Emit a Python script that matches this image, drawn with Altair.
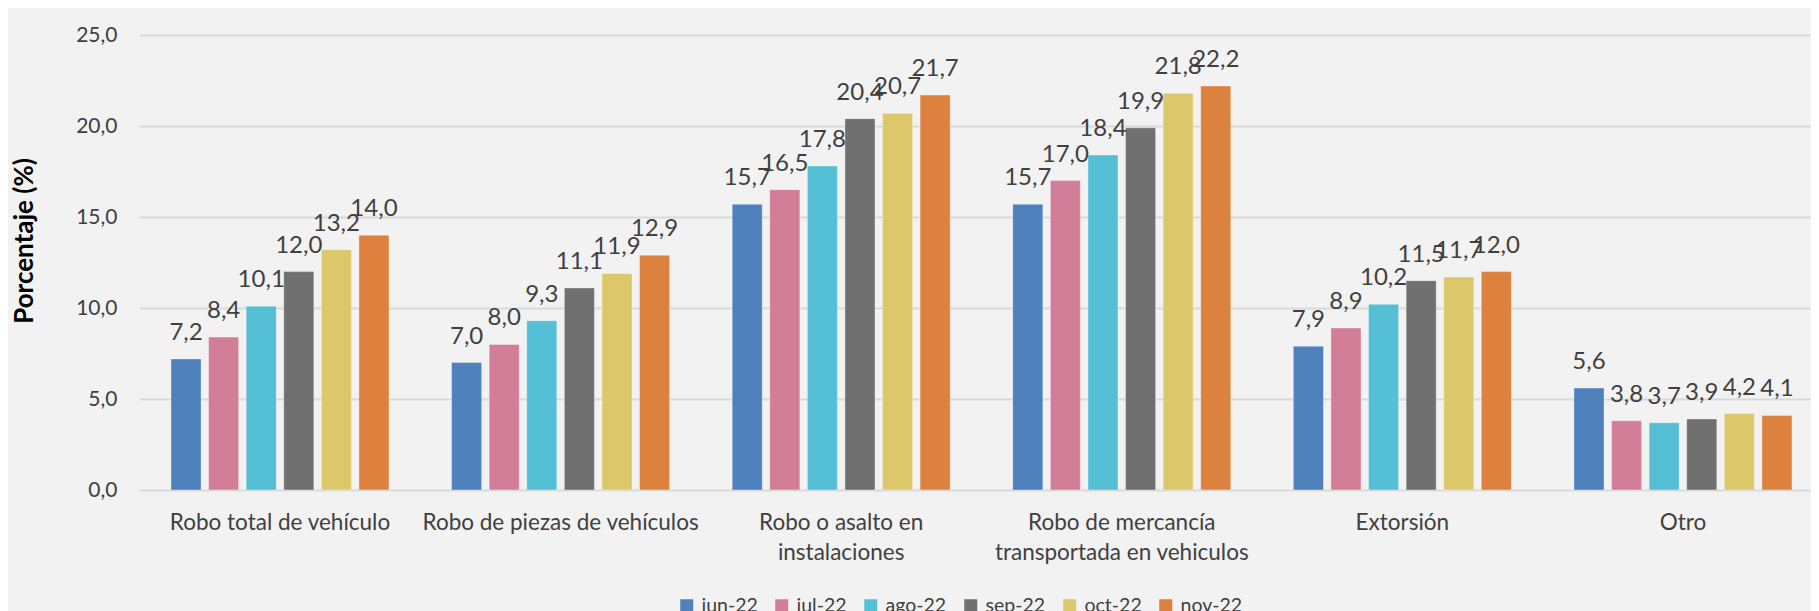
import altair as alt
import pandas as pd

categories = [
    "Robo total de vehículo",
    "Robo de piezas de vehículos",
    "Robo o asalto en\ninstalaciones",
    "Robo de mercancía\ntransportada en vehiculos",
    "Extorsión",
    "Otro",
]
months = ["jun-22", "jul-22", "ago-22", "sep-22", "oct-22", "nov-22"]
colors = ["#4f81bd", "#d37e98", "#55bfd6", "#707070", "#dcc86a", "#dc823e"]

robo_total = [7.2, 8.4, 10.1, 12.0, 13.2, 14.0]
robo_piezas = [7.0, 8.0, 9.3, 11.1, 11.9, 12.9]
robo_instalaciones = [15.7, 16.5, 17.8, 20.4, 20.7, 21.7]
robo_mercancia = [15.7, 17.0, 18.4, 19.9, 21.8, 22.2]
extorsion = [7.9, 8.9, 10.2, 11.5, 11.7, 12.0]
otro = [5.6, 3.8, 3.7, 3.9, 4.2, 4.1]

series = [robo_total, robo_piezas, robo_instalaciones, robo_mercancia, extorsion, otro]
rows = []
for cat, vals in zip(categories, series):
    for m, v in zip(months, vals):
        rows.append({"cat": cat, "mes": m, "valor": v})
df = pd.DataFrame(rows)

FONT = "Lato"
TXT = "#404040"

x = alt.X(
    "cat:N",
    sort=categories,
    scale=alt.Scale(paddingInner=0.223, paddingOuter=0.0909, align=0.627),
    axis=alt.Axis(
        title=None,
        labelAngle=0,
        labelFont=FONT,
        labelFontSize=22.5,
        labelColor=TXT,
        labelPadding=21,
        labelLineHeight=30,
        labelBaseline="top",
        labelLimit=400,
        ticks=False,
        tickSize=0,
        domain=False,
        labelExpr="split(datum.label, '\\n')",
    ),
)
xo = alt.XOffset("mes:N", sort=months, scale=alt.Scale(paddingInner=0.2, paddingOuter=0))
y = alt.Y(
    "valor:Q",
    scale=alt.Scale(domain=[0, 25], nice=False),
    axis=alt.Axis(
        title="Porcentaje (%)",
        values=[0, 5, 10, 15, 20, 25],
        labelExpr="replace(format(datum.value, '.1f'), '.', ',')",
        labelFont=FONT,
        labelFontSize=21,
        labelColor=TXT,
        labelPadding=22,
        ticks=False,
        domain=False,
        grid=True,
        gridColor="#d9d9d9",
        gridWidth=1.8,
        titleFont=FONT,
        titleFontSize=26,
        titleFontWeight="bold",
        titleColor="#000000",
        titleX=-115,
        titleY=205.5,
        titleAlign="center",
        titleBaseline="middle",
        titleAngle=270,
    ),
)
color = alt.Color(
    "mes:N",
    sort=months,
    scale=alt.Scale(domain=months, range=colors),
    legend=alt.Legend(
        title=None,
        orient="none",
        direction="horizontal",
        legendX=538,
        legendY=561,
        gridAlign="none",
        symbolType="square",
        symbolSize=169,
        symbolStrokeWidth=0,
        symbolOpacity=1,
        labelFont=FONT,
        labelFontSize=19.5,
        labelColor=TXT,
        labelOffset=5,
        columnPadding=14,
    ),
)

base = alt.Chart(df)
bars = base.mark_bar(stroke="#ffffff", strokeOpacity=0.35, strokeWidth=1).encode(
    x=x, xOffset=xo, y=y, color=color
)
labels = base.transform_calculate(
    lab="replace(format(datum.valor, '.1f'), '.', ',')"
).mark_text(
    font=FONT, fontSize=24, color=TXT, baseline="alphabetic", dy=-19
).encode(
    x=alt.X("cat:N", sort=categories),
    xOffset=alt.XOffset("mes:N", sort=months),
    y="valor:Q",
    text="lab:N",
)

chart = (
    alt.layer(bars, labels)
    .properties(
        width=1672,
        height=455,
        background="#f2f2f2",
        padding={"left": 131, "top": 27, "right": 0, "bottom": 138},
        autosize=alt.AutoSizeParams(type="none"),
    )
    .configure_view(stroke=None)
)

chart.save("out.html", embed_options={"renderer": "svg", "actions": False})
